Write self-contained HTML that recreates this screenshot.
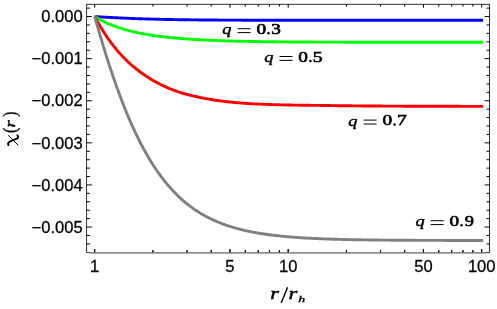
<!DOCTYPE html>
<html><head><meta charset="utf-8"><title>chi(r)</title>
<style>
html,body{margin:0;padding:0;background:#fff;}
body{width:497px;height:309px;overflow:hidden;font-family:"Liberation Sans",sans-serif;}
svg{display:block;position:absolute;left:0;top:0;will-change:transform;}
.tl{font-family:"Liberation Sans",sans-serif;font-size:15.9px;fill:#000;stroke:#000;stroke-width:0.25px;}
.m{font-family:"Liberation Serif",serif;fill:#000;stroke:#000;}
.mi{font-family:"Liberation Serif",serif;font-style:italic;fill:#000;stroke:#000;}
.mb{font-family:"Liberation Serif",serif;font-weight:bold;fill:#000;}
.mbi{font-family:"Liberation Serif",serif;font-weight:bold;font-style:italic;fill:#000;}
</style></head><body>
<svg width="497" height="309" viewBox="0 0 497 309">
<rect x="0" y="0" width="497" height="309" fill="#ffffff"/>
<path d="M94.7,16.55 L95.3,16.58 L95.8,16.62 L96.4,16.65 L96.9,16.69 L97.5,16.72 L98.1,16.75 L98.6,16.79 L99.2,16.82 L99.7,16.85 L100.3,16.89 L100.8,16.92 L101.4,16.95 L102.0,16.98 L102.5,17.02 L103.1,17.05 L103.6,17.08 L104.2,17.11 L104.8,17.14 L105.3,17.18 L105.9,17.21 L106.4,17.24 L107.0,17.27 L107.5,17.30 L108.1,17.33 L108.7,17.36 L109.2,17.39 L109.8,17.42 L110.3,17.45 L110.9,17.48 L111.5,17.51 L112.0,17.54 L112.6,17.57 L113.1,17.60 L113.7,17.63 L114.3,17.66 L114.8,17.68 L115.4,17.71 L115.9,17.74 L116.5,17.77 L117.0,17.80 L117.6,17.82 L118.2,17.85 L118.7,17.88 L119.3,17.90 L119.8,17.93 L120.4,17.96 L121.0,17.98 L121.5,18.01 L122.1,18.03 L122.6,18.06 L123.2,18.09 L123.7,18.11 L124.3,18.14 L124.9,18.16 L125.4,18.18 L126.0,18.21 L126.5,18.23 L127.1,18.26 L127.7,18.28 L128.2,18.30 L128.8,18.33 L129.3,18.35 L129.9,18.37 L130.4,18.40 L131.0,18.42 L131.6,18.44 L132.1,18.46 L132.7,18.48 L133.2,18.51 L133.8,18.53 L134.4,18.55 L134.9,18.57 L135.5,18.59 L136.0,18.61 L136.6,18.63 L137.2,18.65 L137.7,18.67 L138.3,18.69 L138.8,18.71 L139.4,18.73 L139.9,18.75 L140.5,18.77 L141.1,18.79 L141.6,18.81 L142.2,18.83 L142.7,18.84 L143.3,18.86 L143.9,18.88 L144.4,18.90 L145.0,18.92 L145.5,18.93 L146.1,18.95 L146.6,18.97 L147.2,18.98 L147.8,19.00 L148.3,19.02 L148.9,19.03 L149.4,19.05 L150.0,19.06 L150.6,19.08 L152.3,19.13 L153.9,19.17 L155.6,19.22 L157.3,19.26 L159.0,19.30 L160.6,19.34 L162.3,19.37 L164.0,19.41 L165.6,19.44 L167.3,19.48 L169.0,19.51 L170.7,19.54 L172.3,19.57 L174.0,19.60 L175.7,19.63 L177.3,19.66 L179.0,19.68 L180.7,19.71 L182.3,19.73 L184.0,19.75 L185.7,19.78 L187.4,19.80 L189.0,19.82 L190.7,19.84 L192.4,19.86 L194.0,19.88 L195.7,19.89 L197.4,19.91 L199.1,19.93 L200.7,19.94 L202.4,19.96 L204.1,19.97 L205.7,19.98 L207.4,20.00 L209.1,20.01 L210.8,20.02 L212.4,20.03 L214.1,20.05 L215.8,20.06 L217.4,20.07 L219.1,20.08 L220.8,20.09 L222.4,20.10 L224.1,20.10 L225.8,20.11 L227.5,20.12 L229.1,20.13 L230.8,20.14 L232.5,20.14 L234.1,20.15 L235.8,20.16 L237.5,20.16 L239.2,20.17 L240.8,20.17 L242.5,20.18 L244.2,20.18 L245.8,20.19 L247.5,20.19 L249.2,20.20 L250.9,20.20 L252.5,20.21 L254.2,20.21 L255.9,20.22 L257.5,20.22 L259.2,20.22 L260.9,20.23 L262.5,20.23 L264.2,20.23 L265.9,20.24 L267.6,20.24 L269.2,20.24 L270.9,20.24 L272.6,20.25 L274.2,20.25 L275.9,20.25 L277.6,20.25 L279.3,20.26 L280.9,20.26 L282.6,20.26 L284.3,20.26 L285.9,20.26 L287.6,20.27 L289.3,20.27 L291.0,20.27 L292.6,20.27 L294.3,20.27 L296.0,20.27 L297.6,20.27 L299.3,20.28 L301.0,20.28 L302.6,20.28 L304.3,20.28 L306.0,20.28 L307.7,20.28 L309.3,20.28 L311.0,20.28 L312.7,20.28 L314.3,20.28 L316.0,20.29 L317.7,20.29 L319.4,20.29 L321.0,20.29 L322.7,20.29 L324.4,20.29 L326.0,20.29 L327.7,20.29 L329.4,20.29 L331.1,20.29 L332.7,20.29 L334.4,20.29 L336.1,20.29 L337.7,20.29 L339.4,20.29 L341.1,20.29 L342.7,20.30 L344.4,20.30 L346.1,20.30 L347.8,20.30 L349.4,20.30 L351.1,20.30 L352.8,20.30 L354.4,20.30 L356.1,20.30 L357.8,20.30 L359.5,20.30 L361.1,20.30 L362.8,20.30 L364.5,20.30 L366.1,20.30 L367.8,20.30 L369.5,20.30 L371.2,20.30 L372.8,20.30 L374.5,20.30 L376.2,20.30 L377.8,20.30 L379.5,20.30 L381.2,20.30 L382.8,20.30 L384.5,20.30 L386.2,20.30 L387.9,20.30 L389.5,20.30 L391.2,20.30 L392.9,20.30 L394.5,20.30 L396.2,20.30 L397.9,20.30 L399.6,20.30 L401.2,20.30 L402.9,20.30 L404.6,20.30 L406.2,20.30 L407.9,20.30 L409.6,20.30 L411.3,20.30 L412.9,20.30 L414.6,20.30 L416.3,20.30 L417.9,20.30 L419.6,20.30 L421.3,20.30 L422.9,20.30 L424.6,20.30 L426.3,20.30 L428.0,20.30 L429.6,20.30 L431.3,20.30 L433.0,20.30 L434.6,20.30 L436.3,20.30 L438.0,20.30 L439.7,20.30 L441.3,20.30 L443.0,20.30 L444.7,20.30 L446.3,20.30 L448.0,20.30 L449.7,20.30 L451.4,20.30 L453.0,20.30 L454.7,20.30 L456.4,20.30 L458.0,20.30 L459.7,20.30 L461.4,20.30 L463.0,20.30 L464.7,20.30 L466.4,20.30 L468.1,20.30 L469.7,20.30 L471.4,20.30 L473.1,20.30 L474.7,20.30 L476.4,20.30 L478.1,20.30 L479.8,20.30 L481.4,20.30 L483.1,20.30" fill="none" stroke="#0000ff" stroke-width="2.9" stroke-linejoin="round"/>
<path d="M94.7,16.55 L95.3,16.89 L95.8,17.23 L96.4,17.57 L96.9,17.89 L97.5,18.22 L98.1,18.54 L98.6,18.85 L99.2,19.16 L99.7,19.46 L100.3,19.77 L100.8,20.06 L101.4,20.35 L102.0,20.64 L102.5,20.92 L103.1,21.20 L103.6,21.48 L104.2,21.75 L104.8,22.02 L105.3,22.28 L105.9,22.54 L106.4,22.80 L107.0,23.05 L107.5,23.30 L108.1,23.54 L108.7,23.78 L109.2,24.02 L109.8,24.26 L110.3,24.49 L110.9,24.72 L111.5,24.94 L112.0,25.17 L112.6,25.38 L113.1,25.60 L113.7,25.81 L114.3,26.02 L114.8,26.23 L115.4,26.44 L115.9,26.64 L116.5,26.84 L117.0,27.03 L117.6,27.22 L118.2,27.42 L118.7,27.60 L119.3,27.79 L119.8,27.97 L120.4,28.15 L121.0,28.33 L121.5,28.51 L122.1,28.68 L122.6,28.85 L123.2,29.02 L123.7,29.19 L124.3,29.35 L124.9,29.51 L125.4,29.67 L126.0,29.83 L126.5,29.99 L127.1,30.14 L127.7,30.29 L128.2,30.44 L128.8,30.59 L129.3,30.73 L129.9,30.88 L130.4,31.02 L131.0,31.16 L131.6,31.30 L132.1,31.43 L132.7,31.57 L133.2,31.70 L133.8,31.83 L134.4,31.96 L134.9,32.09 L135.5,32.21 L136.0,32.34 L136.6,32.46 L137.2,32.58 L137.7,32.70 L138.3,32.82 L138.8,32.94 L139.4,33.05 L139.9,33.17 L140.5,33.28 L141.1,33.39 L141.6,33.50 L142.2,33.61 L142.7,33.71 L143.3,33.82 L143.9,33.92 L144.4,34.02 L145.0,34.12 L145.5,34.22 L146.1,34.32 L146.6,34.42 L147.2,34.52 L147.8,34.61 L148.3,34.70 L148.9,34.80 L149.4,34.89 L150.0,34.98 L150.6,35.07 L152.3,35.33 L153.9,35.58 L155.6,35.82 L157.3,36.05 L159.0,36.28 L160.6,36.49 L162.3,36.70 L164.0,36.90 L165.6,37.09 L167.3,37.27 L169.0,37.45 L170.7,37.62 L172.3,37.79 L174.0,37.95 L175.7,38.10 L177.3,38.25 L179.0,38.39 L180.7,38.53 L182.3,38.67 L184.0,38.79 L185.7,38.92 L187.4,39.04 L189.0,39.15 L190.7,39.26 L192.4,39.37 L194.0,39.47 L195.7,39.57 L197.4,39.67 L199.1,39.76 L200.7,39.85 L202.4,39.93 L204.1,40.02 L205.7,40.10 L207.4,40.17 L209.1,40.25 L210.8,40.32 L212.4,40.39 L214.1,40.45 L215.8,40.52 L217.4,40.58 L219.1,40.64 L220.8,40.70 L222.4,40.76 L224.1,40.81 L225.8,40.86 L227.5,40.91 L229.1,40.96 L230.8,41.01 L232.5,41.05 L234.1,41.10 L235.8,41.14 L237.5,41.18 L239.2,41.22 L240.8,41.25 L242.5,41.29 L244.2,41.33 L245.8,41.36 L247.5,41.39 L249.2,41.42 L250.9,41.45 L252.5,41.48 L254.2,41.51 L255.9,41.54 L257.5,41.57 L259.2,41.59 L260.9,41.62 L262.5,41.64 L264.2,41.66 L265.9,41.69 L267.6,41.71 L269.2,41.73 L270.9,41.75 L272.6,41.77 L274.2,41.79 L275.9,41.80 L277.6,41.82 L279.3,41.84 L280.9,41.85 L282.6,41.87 L284.3,41.88 L285.9,41.90 L287.6,41.91 L289.3,41.93 L291.0,41.94 L292.6,41.95 L294.3,41.96 L296.0,41.98 L297.6,41.99 L299.3,42.00 L301.0,42.01 L302.6,42.02 L304.3,42.03 L306.0,42.04 L307.7,42.05 L309.3,42.06 L311.0,42.07 L312.7,42.07 L314.3,42.08 L316.0,42.09 L317.7,42.10 L319.4,42.10 L321.0,42.11 L322.7,42.12 L324.4,42.12 L326.0,42.13 L327.7,42.14 L329.4,42.14 L331.1,42.15 L332.7,42.15 L334.4,42.16 L336.1,42.16 L337.7,42.17 L339.4,42.17 L341.1,42.18 L342.7,42.18 L344.4,42.19 L346.1,42.19 L347.8,42.19 L349.4,42.20 L351.1,42.20 L352.8,42.21 L354.4,42.21 L356.1,42.21 L357.8,42.22 L359.5,42.22 L361.1,42.22 L362.8,42.22 L364.5,42.23 L366.1,42.23 L367.8,42.23 L369.5,42.23 L371.2,42.24 L372.8,42.24 L374.5,42.24 L376.2,42.24 L377.8,42.25 L379.5,42.25 L381.2,42.25 L382.8,42.25 L384.5,42.25 L386.2,42.26 L387.9,42.26 L389.5,42.26 L391.2,42.26 L392.9,42.26 L394.5,42.26 L396.2,42.26 L397.9,42.27 L399.6,42.27 L401.2,42.27 L402.9,42.27 L404.6,42.27 L406.2,42.27 L407.9,42.27 L409.6,42.27 L411.3,42.28 L412.9,42.28 L414.6,42.28 L416.3,42.28 L417.9,42.28 L419.6,42.28 L421.3,42.28 L422.9,42.28 L424.6,42.28 L426.3,42.28 L428.0,42.28 L429.6,42.28 L431.3,42.29 L433.0,42.29 L434.6,42.29 L436.3,42.29 L438.0,42.29 L439.7,42.29 L441.3,42.29 L443.0,42.29 L444.7,42.29 L446.3,42.29 L448.0,42.29 L449.7,42.29 L451.4,42.29 L453.0,42.29 L454.7,42.29 L456.4,42.29 L458.0,42.29 L459.7,42.29 L461.4,42.29 L463.0,42.29 L464.7,42.30 L466.4,42.30 L468.1,42.30 L469.7,42.30 L471.4,42.30 L473.1,42.30 L474.7,42.30 L476.4,42.30 L478.1,42.30 L479.8,42.30 L481.4,42.30 L483.1,42.30" fill="none" stroke="#00ff00" stroke-width="2.9" stroke-linejoin="round"/>
<path d="M94.7,16.55 L95.3,17.60 L95.8,18.63 L96.4,19.66 L96.9,20.67 L97.5,21.67 L98.1,22.66 L98.6,23.63 L99.2,24.60 L99.7,25.55 L100.3,26.50 L100.8,27.43 L101.4,28.35 L102.0,29.26 L102.5,30.16 L103.1,31.06 L103.6,31.93 L104.2,32.80 L104.8,33.66 L105.3,34.51 L105.9,35.35 L106.4,36.18 L107.0,37.00 L107.5,37.82 L108.1,38.62 L108.7,39.41 L109.2,40.19 L109.8,40.97 L110.3,41.73 L110.9,42.49 L111.5,43.23 L112.0,43.97 L112.6,44.70 L113.1,45.42 L113.7,46.14 L114.3,46.84 L114.8,47.54 L115.4,48.23 L115.9,48.91 L116.5,49.58 L117.0,50.25 L117.6,50.90 L118.2,51.55 L118.7,52.20 L119.3,52.83 L119.8,53.46 L120.4,54.08 L121.0,54.69 L121.5,55.29 L122.1,55.89 L122.6,56.48 L123.2,57.07 L123.7,57.65 L124.3,58.22 L124.9,58.78 L125.4,59.34 L126.0,59.89 L126.5,60.44 L127.1,60.97 L127.7,61.51 L128.2,62.03 L128.8,62.55 L129.3,63.07 L129.9,63.57 L130.4,64.08 L131.0,64.57 L131.6,65.06 L132.1,65.55 L132.7,66.02 L133.2,66.50 L133.8,66.97 L134.4,67.43 L134.9,67.88 L135.5,68.34 L136.0,68.78 L136.6,69.22 L137.2,69.66 L137.7,70.09 L138.3,70.52 L138.8,70.94 L139.4,71.36 L139.9,71.77 L140.5,72.18 L141.1,72.59 L141.6,72.99 L142.2,73.39 L142.7,73.79 L143.3,74.18 L143.9,74.57 L144.4,74.95 L145.0,75.33 L145.5,75.71 L146.1,76.08 L146.6,76.45 L147.2,76.82 L147.8,77.18 L148.3,77.54 L148.9,77.89 L149.4,78.24 L150.0,78.59 L150.6,78.96 L152.3,79.96 L153.9,80.94 L155.6,81.87 L157.3,82.78 L159.0,83.65 L160.6,84.49 L162.3,85.30 L164.0,86.09 L165.6,86.85 L167.3,87.58 L169.0,88.30 L170.7,88.98 L172.3,89.65 L174.0,90.28 L175.7,90.89 L177.3,91.47 L179.0,92.03 L180.7,92.56 L182.3,93.06 L184.0,93.56 L185.7,94.03 L187.4,94.49 L189.0,94.93 L190.7,95.35 L192.4,95.76 L194.0,96.16 L195.7,96.54 L197.4,96.91 L199.1,97.27 L200.7,97.62 L202.4,97.95 L204.1,98.27 L205.7,98.58 L207.4,98.88 L209.1,99.17 L210.8,99.45 L212.4,99.72 L214.1,99.97 L215.8,100.23 L217.4,100.47 L219.1,100.70 L220.8,100.93 L222.4,101.14 L224.1,101.35 L225.8,101.56 L227.5,101.75 L229.1,101.94 L230.8,102.12 L232.5,102.29 L234.1,102.45 L235.8,102.60 L237.5,102.75 L239.2,102.89 L240.8,103.02 L242.5,103.15 L244.2,103.26 L245.8,103.38 L247.5,103.48 L249.2,103.58 L250.9,103.68 L252.5,103.77 L254.2,103.86 L255.9,103.94 L257.5,104.02 L259.2,104.09 L260.9,104.16 L262.5,104.23 L264.2,104.29 L265.9,104.36 L267.6,104.42 L269.2,104.47 L270.9,104.53 L272.6,104.58 L274.2,104.63 L275.9,104.69 L277.6,104.74 L279.3,104.78 L280.9,104.83 L282.6,104.87 L284.3,104.91 L285.9,104.95 L287.6,104.99 L289.3,105.02 L291.0,105.05 L292.6,105.09 L294.3,105.12 L296.0,105.15 L297.6,105.17 L299.3,105.20 L301.0,105.23 L302.6,105.25 L304.3,105.27 L306.0,105.29 L307.7,105.30 L309.3,105.32 L311.0,105.34 L312.7,105.35 L314.3,105.37 L316.0,105.38 L317.7,105.40 L319.4,105.42 L321.0,105.44 L322.7,105.46 L324.4,105.48 L326.0,105.51 L327.7,105.53 L329.4,105.55 L331.1,105.58 L332.7,105.60 L334.4,105.62 L336.1,105.64 L337.7,105.66 L339.4,105.69 L341.1,105.71 L342.7,105.73 L344.4,105.75 L346.1,105.77 L347.8,105.78 L349.4,105.80 L351.1,105.82 L352.8,105.84 L354.4,105.86 L356.1,105.87 L357.8,105.89 L359.5,105.90 L361.1,105.92 L362.8,105.94 L364.5,105.95 L366.1,105.96 L367.8,105.98 L369.5,105.99 L371.2,106.00 L372.8,106.02 L374.5,106.03 L376.2,106.04 L377.8,106.05 L379.5,106.06 L381.2,106.07 L382.8,106.08 L384.5,106.09 L386.2,106.10 L387.9,106.11 L389.5,106.11 L391.2,106.12 L392.9,106.13 L394.5,106.14 L396.2,106.15 L397.9,106.15 L399.6,106.16 L401.2,106.17 L402.9,106.17 L404.6,106.18 L406.2,106.19 L407.9,106.19 L409.6,106.20 L411.3,106.20 L412.9,106.21 L414.6,106.22 L416.3,106.22 L417.9,106.23 L419.6,106.23 L421.3,106.24 L422.9,106.24 L424.6,106.25 L426.3,106.25 L428.0,106.26 L429.6,106.26 L431.3,106.26 L433.0,106.27 L434.6,106.27 L436.3,106.28 L438.0,106.28 L439.7,106.28 L441.3,106.29 L443.0,106.29 L444.7,106.30 L446.3,106.30 L448.0,106.30 L449.7,106.31 L451.4,106.31 L453.0,106.31 L454.7,106.31 L456.4,106.32 L458.0,106.32 L459.7,106.32 L461.4,106.33 L463.0,106.33 L464.7,106.33 L466.4,106.33 L468.1,106.33 L469.7,106.34 L471.4,106.34 L473.1,106.34 L474.7,106.34 L476.4,106.34 L478.1,106.35 L479.8,106.35 L481.4,106.35 L483.1,106.35" fill="none" stroke="#ff0000" stroke-width="2.9" stroke-linejoin="round"/>
<path d="M94.7,16.55 L95.3,18.54 L95.8,20.53 L96.4,22.50 L96.9,24.46 L97.5,26.41 L98.1,28.35 L98.6,30.28 L99.2,32.21 L99.7,34.12 L100.3,36.01 L100.8,37.90 L101.4,39.78 L102.0,41.65 L102.5,43.50 L103.1,45.35 L103.6,47.18 L104.2,49.00 L104.8,50.82 L105.3,52.62 L105.9,54.41 L106.4,56.18 L107.0,57.95 L107.5,59.71 L108.1,61.45 L108.7,63.18 L109.2,64.90 L109.8,66.61 L110.3,68.31 L110.9,70.00 L111.5,71.67 L112.0,73.33 L112.6,74.99 L113.1,76.63 L113.7,78.25 L114.3,79.87 L114.8,81.48 L115.4,83.07 L115.9,84.65 L116.5,86.22 L117.0,87.78 L117.6,89.33 L118.2,90.86 L118.7,92.39 L119.3,93.90 L119.8,95.40 L120.4,96.89 L121.0,98.37 L121.5,99.83 L122.1,101.29 L122.6,102.73 L123.2,104.16 L123.7,105.58 L124.3,106.99 L124.9,108.39 L125.4,109.77 L126.0,111.15 L126.5,112.51 L127.1,113.86 L127.7,115.20 L128.2,116.53 L128.8,117.85 L129.3,119.15 L129.9,120.45 L130.4,121.73 L131.0,123.01 L131.6,124.27 L132.1,125.52 L132.7,126.76 L133.2,127.99 L133.8,129.21 L134.4,130.41 L134.9,131.61 L135.5,132.79 L136.0,133.97 L136.6,135.13 L137.2,136.29 L137.7,137.43 L138.3,138.56 L138.8,139.69 L139.4,140.80 L139.9,141.90 L140.5,142.99 L141.1,144.07 L141.6,145.14 L142.2,146.20 L142.7,147.25 L143.3,148.29 L143.9,149.32 L144.4,150.34 L145.0,151.35 L145.5,152.36 L146.1,153.35 L146.6,154.33 L147.2,155.30 L147.8,156.26 L148.3,157.22 L148.9,158.16 L149.4,159.09 L150.0,160.02 L150.6,161.00 L152.3,163.69 L153.9,166.29 L155.6,168.81 L157.3,171.26 L159.0,173.63 L160.6,175.93 L162.3,178.16 L164.0,180.32 L165.6,182.40 L167.3,184.43 L169.0,186.39 L170.7,188.28 L172.3,190.11 L174.0,191.89 L175.7,193.60 L177.3,195.26 L179.0,196.87 L180.7,198.42 L182.3,199.92 L184.0,201.37 L185.7,202.77 L187.4,204.12 L189.0,205.42 L190.7,206.69 L192.4,207.91 L194.0,209.08 L195.7,210.22 L197.4,211.31 L199.1,212.37 L200.7,213.40 L202.4,214.38 L204.1,215.33 L205.7,216.25 L207.4,217.14 L209.1,217.99 L210.8,218.82 L212.4,219.61 L214.1,220.38 L215.8,221.12 L217.4,221.83 L219.1,222.52 L220.8,223.18 L222.4,223.82 L224.1,224.43 L225.8,225.03 L227.5,225.60 L229.1,226.15 L230.8,226.68 L232.5,227.20 L234.1,227.69 L235.8,228.16 L237.5,228.62 L239.2,229.06 L240.8,229.49 L242.5,229.90 L244.2,230.30 L245.8,230.68 L247.5,231.04 L249.2,231.40 L250.9,231.74 L252.5,232.06 L254.2,232.38 L255.9,232.68 L257.5,232.98 L259.2,233.26 L260.9,233.53 L262.5,233.79 L264.2,234.04 L265.9,234.28 L267.6,234.52 L269.2,234.74 L270.9,234.96 L272.6,235.17 L274.2,235.37 L275.9,235.56 L277.6,235.75 L279.3,235.93 L280.9,236.10 L282.6,236.26 L284.3,236.42 L285.9,236.58 L287.6,236.73 L289.3,236.87 L291.0,237.01 L292.6,237.14 L294.3,237.27 L296.0,237.39 L297.6,237.51 L299.3,237.62 L301.0,237.73 L302.6,237.83 L304.3,237.93 L306.0,238.03 L307.7,238.13 L309.3,238.22 L311.0,238.30 L312.7,238.39 L314.3,238.47 L316.0,238.54 L317.7,238.62 L319.4,238.69 L321.0,238.76 L322.7,238.83 L324.4,238.89 L326.0,238.95 L327.7,239.01 L329.4,239.07 L331.1,239.12 L332.7,239.18 L334.4,239.23 L336.1,239.28 L337.7,239.32 L339.4,239.37 L341.1,239.41 L342.7,239.45 L344.4,239.49 L346.1,239.53 L347.8,239.57 L349.4,239.61 L351.1,239.64 L352.8,239.68 L354.4,239.71 L356.1,239.74 L357.8,239.77 L359.5,239.80 L361.1,239.82 L362.8,239.85 L364.5,239.88 L366.1,239.90 L367.8,239.92 L369.5,239.95 L371.2,239.97 L372.8,239.99 L374.5,240.01 L376.2,240.03 L377.8,240.05 L379.5,240.07 L381.2,240.08 L382.8,240.10 L384.5,240.12 L386.2,240.13 L387.9,240.15 L389.5,240.16 L391.2,240.18 L392.9,240.19 L394.5,240.20 L396.2,240.21 L397.9,240.23 L399.6,240.24 L401.2,240.25 L402.9,240.26 L404.6,240.27 L406.2,240.28 L407.9,240.29 L409.6,240.30 L411.3,240.31 L412.9,240.31 L414.6,240.32 L416.3,240.33 L417.9,240.34 L419.6,240.34 L421.3,240.35 L422.9,240.36 L424.6,240.36 L426.3,240.37 L428.0,240.38 L429.6,240.38 L431.3,240.39 L433.0,240.39 L434.6,240.40 L436.3,240.40 L438.0,240.41 L439.7,240.41 L441.3,240.42 L443.0,240.42 L444.7,240.43 L446.3,240.43 L448.0,240.43 L449.7,240.44 L451.4,240.44 L453.0,240.44 L454.7,240.45 L456.4,240.45 L458.0,240.45 L459.7,240.46 L461.4,240.46 L463.0,240.46 L464.7,240.46 L466.4,240.47 L468.1,240.47 L469.7,240.47 L471.4,240.47 L473.1,240.47 L474.7,240.48 L476.4,240.48 L478.1,240.48 L479.8,240.48 L481.4,240.48 L483.1,240.49" fill="none" stroke="#808080" stroke-width="2.9" stroke-linejoin="round"/>
<rect x="86.6" y="4.3" width="402.9" height="248.2" fill="none" stroke="#1a1a1a" stroke-width="0.9"/>
<path d="M86.6,8.13h3.3 M489.5,8.13h-3.0 M86.6,16.55h5.3 M489.5,16.55h-4.9 M86.6,24.97h3.3 M489.5,24.97h-3.0 M86.6,33.39h3.3 M489.5,33.39h-3.0 M86.6,41.81h3.3 M489.5,41.81h-3.0 M86.6,50.23h3.3 M489.5,50.23h-3.0 M86.6,58.65h5.3 M489.5,58.65h-4.9 M86.6,67.07h3.3 M489.5,67.07h-3.0 M86.6,75.49h3.3 M489.5,75.49h-3.0 M86.6,83.91h3.3 M489.5,83.91h-3.0 M86.6,92.33h3.3 M489.5,92.33h-3.0 M86.6,100.75h5.3 M489.5,100.75h-4.9 M86.6,109.17h3.3 M489.5,109.17h-3.0 M86.6,117.59h3.3 M489.5,117.59h-3.0 M86.6,126.01h3.3 M489.5,126.01h-3.0 M86.6,134.43h3.3 M489.5,134.43h-3.0 M86.6,142.85h5.3 M489.5,142.85h-4.9 M86.6,151.27h3.3 M489.5,151.27h-3.0 M86.6,159.69h3.3 M489.5,159.69h-3.0 M86.6,168.11h3.3 M489.5,168.11h-3.0 M86.6,176.53h3.3 M489.5,176.53h-3.0 M86.6,184.95h5.3 M489.5,184.95h-4.9 M86.6,193.37h3.3 M489.5,193.37h-3.0 M86.6,201.79h3.3 M489.5,201.79h-3.0 M86.6,210.21h3.3 M489.5,210.21h-3.0 M86.6,218.63h3.3 M489.5,218.63h-3.0 M86.6,227.05h5.3 M489.5,227.05h-4.9 M86.6,235.47h3.3 M489.5,235.47h-3.0 M86.6,243.89h3.3 M489.5,243.89h-3.0 M94.70,252.5v-3.4 M94.70,4.3v3.4 M152.95,252.5v-2.3 M152.95,4.3v2.3 M187.02,252.5v-2.3 M187.02,4.3v2.3 M211.20,252.5v-2.3 M211.20,4.3v2.3 M229.95,252.5v-3.4 M229.95,4.3v3.4 M245.27,252.5v-2.3 M245.27,4.3v2.3 M258.23,252.5v-2.3 M258.23,4.3v2.3 M269.45,252.5v-2.3 M269.45,4.3v2.3 M279.35,252.5v-2.3 M279.35,4.3v2.3 M288.20,252.5v-3.4 M288.20,4.3v3.4 M346.45,252.5v-2.3 M346.45,4.3v2.3 M380.52,252.5v-2.3 M380.52,4.3v2.3 M404.70,252.5v-2.3 M404.70,4.3v2.3 M423.45,252.5v-3.4 M423.45,4.3v3.4 M438.77,252.5v-2.3 M438.77,4.3v2.3 M451.73,252.5v-2.3 M451.73,4.3v2.3 M462.95,252.5v-2.3 M462.95,4.3v2.3 M472.85,252.5v-2.3 M472.85,4.3v2.3 M481.70,252.5v-3.4 M481.70,4.3v3.4" fill="none" stroke="#000" stroke-width="1"/>
<rect x="89.6" y="252" width="396.8" height="1.75" fill="#909090"/>
<path d="M94.70,252.5v-3.4 M152.95,252.5v-2.3 M187.02,252.5v-2.3 M211.20,252.5v-2.3 M229.95,252.5v-3.4 M245.27,252.5v-2.3 M258.23,252.5v-2.3 M269.45,252.5v-2.3 M279.35,252.5v-2.3 M288.20,252.5v-3.4 M346.45,252.5v-2.3 M380.52,252.5v-2.3 M404.70,252.5v-2.3 M423.45,252.5v-3.4 M438.77,252.5v-2.3 M451.73,252.5v-2.3 M462.95,252.5v-2.3 M472.85,252.5v-2.3 M481.70,252.5v-3.4" fill="none" stroke="#000" stroke-width="1"/>
<text class="tl" transform="translate(82.6,22.25) scale(1.042,1)" text-anchor="end">0.000</text>
<text class="tl" transform="translate(82.6,64.35) scale(1.042,1)" text-anchor="end">−0.001</text>
<text class="tl" transform="translate(82.6,106.45) scale(1.042,1)" text-anchor="end">−0.002</text>
<text class="tl" transform="translate(82.6,148.55) scale(1.042,1)" text-anchor="end">−0.003</text>
<text class="tl" transform="translate(82.6,190.65) scale(1.042,1)" text-anchor="end">−0.004</text>
<text class="tl" transform="translate(82.6,232.75) scale(1.042,1)" text-anchor="end">−0.005</text>
<text class="tl" transform="translate(94.70,271.7) scale(1.042,1)" text-anchor="middle">1</text>
<text class="tl" transform="translate(229.95,271.7) scale(1.042,1)" text-anchor="middle">5</text>
<text class="tl" transform="translate(288.20,271.7) scale(1.042,1)" text-anchor="middle">10</text>
<text class="tl" transform="translate(423.45,271.7) scale(1.042,1)" text-anchor="middle">50</text>
<text class="tl" transform="translate(481.70,271.7) scale(1.042,1)" text-anchor="middle">100</text>
<g transform="translate(222.7,34.3)"><text class="mi" font-size="100" stroke-width="0.5" vector-effect="non-scaling-stroke" transform="matrix(0.1841,0,0,0.1544,-0.39,-0.19)">q</text><path d="M14.9,-5.6h13M14.9,-1.7h13" stroke="#000" stroke-width="1" fill="none"/><text class="m" font-size="100" stroke-width="0.7" vector-effect="non-scaling-stroke" transform="matrix(0.1929,0,0,0.1422,33.68,-0.34)">0</text><circle cx="45.8" cy="-1.1" r="1.3" fill="#000"/><text class="m" font-size="100" stroke-width="0.7" vector-effect="non-scaling-stroke" transform="matrix(0.1927,0,0,0.1433,48.49,-0.34)">3</text></g>
<g transform="translate(264.6,62.1)"><text class="mi" font-size="100" stroke-width="0.5" vector-effect="non-scaling-stroke" transform="matrix(0.1841,0,0,0.1544,-0.39,-0.19)">q</text><path d="M14.9,-5.6h13M14.9,-1.7h13" stroke="#000" stroke-width="1" fill="none"/><text class="m" font-size="100" stroke-width="0.7" vector-effect="non-scaling-stroke" transform="matrix(0.1929,0,0,0.1422,33.68,-0.34)">0</text><circle cx="45.8" cy="-1.1" r="1.3" fill="#000"/><text class="m" font-size="100" stroke-width="0.7" vector-effect="non-scaling-stroke" transform="matrix(0.1975,0,0,0.1444,48.27,-0.34)">5</text></g>
<g transform="translate(348.7,125.7)"><text class="mi" font-size="100" stroke-width="0.5" vector-effect="non-scaling-stroke" transform="matrix(0.1841,0,0,0.1544,-0.39,-0.19)">q</text><path d="M14.9,-5.6h13M14.9,-1.7h13" stroke="#000" stroke-width="1" fill="none"/><text class="m" font-size="100" stroke-width="0.7" vector-effect="non-scaling-stroke" transform="matrix(0.1929,0,0,0.1422,33.68,-0.34)">0</text><circle cx="45.8" cy="-1.1" r="1.3" fill="#000"/><text class="m" font-size="100" stroke-width="0.7" vector-effect="non-scaling-stroke" transform="matrix(0.1951,0,0,0.1454,48.18,-0.28)">7</text></g>
<g transform="translate(415.8,226.3)"><text class="mi" font-size="100" stroke-width="0.5" vector-effect="non-scaling-stroke" transform="matrix(0.1841,0,0,0.1544,-0.39,-0.19)">q</text><path d="M14.9,-5.6h13M14.9,-1.7h13" stroke="#000" stroke-width="1" fill="none"/><text class="m" font-size="100" stroke-width="0.7" vector-effect="non-scaling-stroke" transform="matrix(0.1929,0,0,0.1422,33.68,-0.34)">0</text><circle cx="45.8" cy="-1.1" r="1.3" fill="#000"/><text class="m" font-size="100" stroke-width="0.7" vector-effect="non-scaling-stroke" transform="matrix(0.1837,0,0,0.1433,48.90,-0.34)">9</text></g>
<g><text class="mi" font-size="100" stroke-width="0.55" vector-effect="non-scaling-stroke" transform="matrix(0.2243,0,0,0.1591,270.28,298.60)">r</text><path d="M281.2,302.9L287.6,287.2" stroke="#000" stroke-width="1.4" fill="none"/><text class="mi" font-size="100" stroke-width="0.55" vector-effect="non-scaling-stroke" transform="matrix(0.2271,0,0,0.1591,288.57,298.60)">r</text><text class="mi" font-size="100" stroke-width="0.4" vector-effect="non-scaling-stroke" transform="matrix(0.1388,0,0,0.0891,298.31,301.84)">h</text></g>
<g transform="translate(15,145.4) rotate(-90)"><text class="m" font-size="100" stroke-width="0.3" vector-effect="non-scaling-stroke" transform="matrix(0.1608,0,0,0.1889,12.33,0.58)">(</text><text class="mi" font-size="100" stroke-width="0.5" vector-effect="non-scaling-stroke" transform="matrix(0.1857,0,0,0.1484,17.91,-0.28)">r</text><text class="m" font-size="100" stroke-width="0.3" vector-effect="non-scaling-stroke" transform="matrix(0.1538,0,0,0.1889,28.69,0.58)">)</text></g>
<path d="M8.2,135.3L18.4,145.4" stroke="#000" stroke-width="1" fill="none"/><path d="M17.5,135.4Q19.4,138.2 15.5,139.2L11.5,140.8Q7.0,142.3 8.4,145.1" stroke="#000" stroke-width="1.9" stroke-linecap="round" fill="none"/>
</svg>
</body></html>
